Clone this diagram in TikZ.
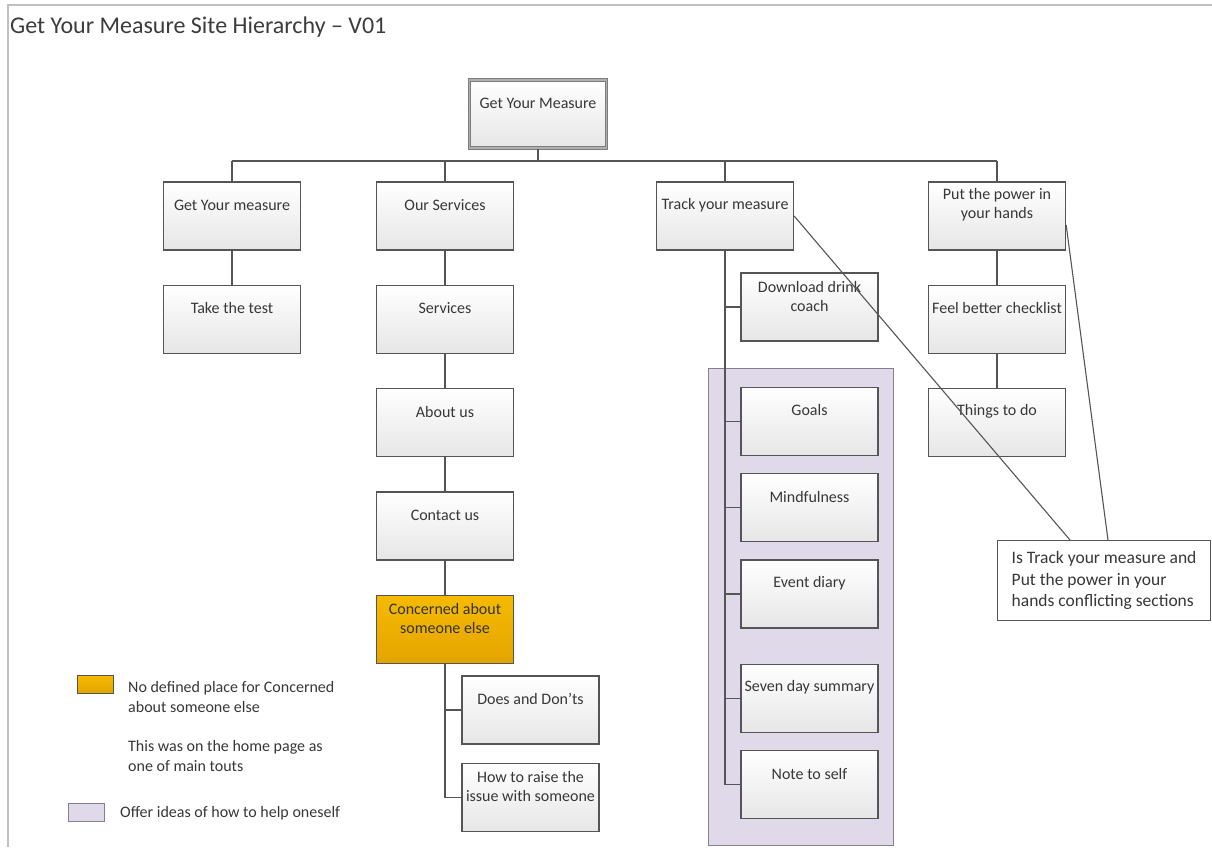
\documentclass[tikz,border=0pt]{standalone}
\usepackage{fontspec}
\setmainfont{Carlito}
\usetikzlibrary{positioning}
\definecolor{lineColor}{RGB}{85,85,85}
\definecolor{shadeColor}{RGB}{230,230,230}
\definecolor{textColor}{RGB}{55,55,55}
\definecolor{titleColor}{RGB}{60,60,60}
\definecolor{rootLine}{RGB}{125,125,125}
\definecolor{rootInner}{RGB}{175,175,175}
\definecolor{orangeTop}{RGB}{246,186,0}
\definecolor{orangeBot}{RGB}{228,164,0}
\definecolor{groupFill}{RGB}{223,217,233}
\definecolor{groupLine}{RGB}{135,125,145}
\definecolor{frameColor}{RGB}{192,192,192}
\newcommand{\boxfont}{\fontsize{16}{19}\selectfont}
\newcommand{\pagestart}{\begin{minipage}[c][68pt][c]{137pt}\centering}
\newcommand{\pagestop}{\par\vspace*{22pt}\end{minipage}}

\begin{document}
\begin{tikzpicture}[x=1pt,y=-1pt]
  	\tikzstyle{page} = [rectangle,draw=lineColor,line width=1.3pt,top color=white,bottom color=shadeColor,inner sep=0pt,text=textColor,font=\boxfont,
  	  execute at begin node=\pagestart,execute at end node=\pagestop]
  	\tikzstyle{root} = [draw=rootLine,line width=1pt,double=rootInner,double distance=1.4pt]
  	\tikzstyle{warn} = [top color=orangeTop,bottom color=orangeBot,text=black!80]
  	\tikzstyle{group} = [rectangle,draw=groupLine,fill=groupFill,line width=1.3pt,anchor=north west,inner sep=0pt]
  	\tikzstyle{swatch} = [rectangle,draw=lineColor,line width=1pt,minimum width=36pt,minimum height=18pt,inner sep=0pt]
  	\tikzstyle{legend} = [align=left,inner sep=0pt,text=textColor,font=\fontsize{16}{20.5}\selectfont]
  	\tikzstyle{link} = [draw=lineColor,line width=1.3pt]
  	\tikzstyle{pointer} = [draw=lineColor,line width=1.1pt]

	  \useasboundingbox (0,0) rectangle (1212,847);
	  \draw [frameColor,line width=1.5pt] (8,847) -- (8,5) -- (1212,5);
	  \node [anchor=west,inner sep=0pt,text=titleColor,font=\fontsize{24}{28}\selectfont] (title) at (10,27) {Get Your Measure Site Hierarchy -- V01};

	  % self help pages sit on a shaded panel
	  \node [group,minimum width=185pt,minimum height=477pt] (selfhelp) at (708,368) {};

	  \node [page,root] (home) at (538,114) {Get Your Measure};
	  \coordinate (bus) at (538,161);

	  \node [page] (gym) at (232,216) {Get Your measure};
	  \node [page] (serv) at (445,216) {Our Services};
	  \node [page] (track) at (725,216) {Track your measure};
	  \node [page] (power) at (997,216) {Put the power in\\your hands};

	  \node [page,below=34pt of gym] (test) {Take the test};

	  \node [page,below=34pt of serv] (services) {Services};
	  \node [page,below=34pt of services] (about) {About us};
	  \node [page,below=34pt of about] (contact) {Contact us};
	  \node [page,warn,below=34pt of contact] (concern) {Concerned about\\someone else};
	  \node [page] (does) at (530.5,710) {Does and Don'ts};
	  \node [page,below=18pt of does] (raise) {How to raise the\\issue with someone};

	  \node [page] (download) at (809.5,307) {Download drink\\coach};
	  \node [page,below=45pt of download] (goals) {Goals};
	  \node [page,below=17pt of goals] (mind) {Mindfulness};
	  \node [page,below=17pt of mind] (diary) {Event diary};
	  \node [page,below=35pt of diary] (seven) {Seven day summary};
	  \node [page,below=17pt of seven] (note) {Note to self};

	  \node [page,below=34pt of power] (feel) {Feel better checklist};
	  \node [page,below=34pt of feel] (things) {Things to do};

	  \node [rectangle,draw=lineColor,line width=1.1pt,fill=white,anchor=north west,minimum height=80pt,minimum width=213pt,inner sep=9pt,align=left,text=textColor,font=\fontsize{17.5}{21.5}\selectfont] (callout) at (997,540) {Is Track your measure and\\Put the power in your\\hands conflicting sections};

		\draw [link] (home) -- (bus);
		\draw [link] (gym.north |- bus) -- (power.north |- bus);
		\foreach \n in {gym,serv,track,power}
		  \draw [link] (\n) -- (\n.north |- bus);

		\draw [link] (gym) -- (test);
		\draw [link] (serv) -- (services) -- (about) -- (contact) -- (concern);
		\draw [link] (concern.south) |- (raise.west);
		\draw [link] (concern.south |- does.west) -- (does.west);

		\draw [link] (track.south) |- (note.west);
		\foreach \n in {download,goals,mind,diary,seven}
		  \draw [link] (track.south |- \n.west) -- (\n.west);

		\draw [link] (power) -- (feel) -- (things);

		\draw [pointer] (track.east) -- ([xshift=73pt]callout.north west);
		\draw [pointer] ([yshift=-9pt]power.east) -- ([xshift=111pt]callout.north west);

	  % legend
	  \node [swatch,top color=orangeTop,bottom color=orangeBot] (keywarn) at (95,684) {};
	  \node [legend,anchor=north west] (keywarntext) at (128,681) {No defined place for Concerned\\about someone else};
	  \node [legend,anchor=north west] (keynote) at (128,740) {This was on the home page as\\one of main touts};
	  \node [swatch,fill=groupFill,draw=groupLine] (keygroup) at (86,812) {};
	  \node [legend,anchor=west] (keygrouptext) at (120,813) {Offer ideas of how to help oneself};
  \end{tikzpicture}
\end{document}
